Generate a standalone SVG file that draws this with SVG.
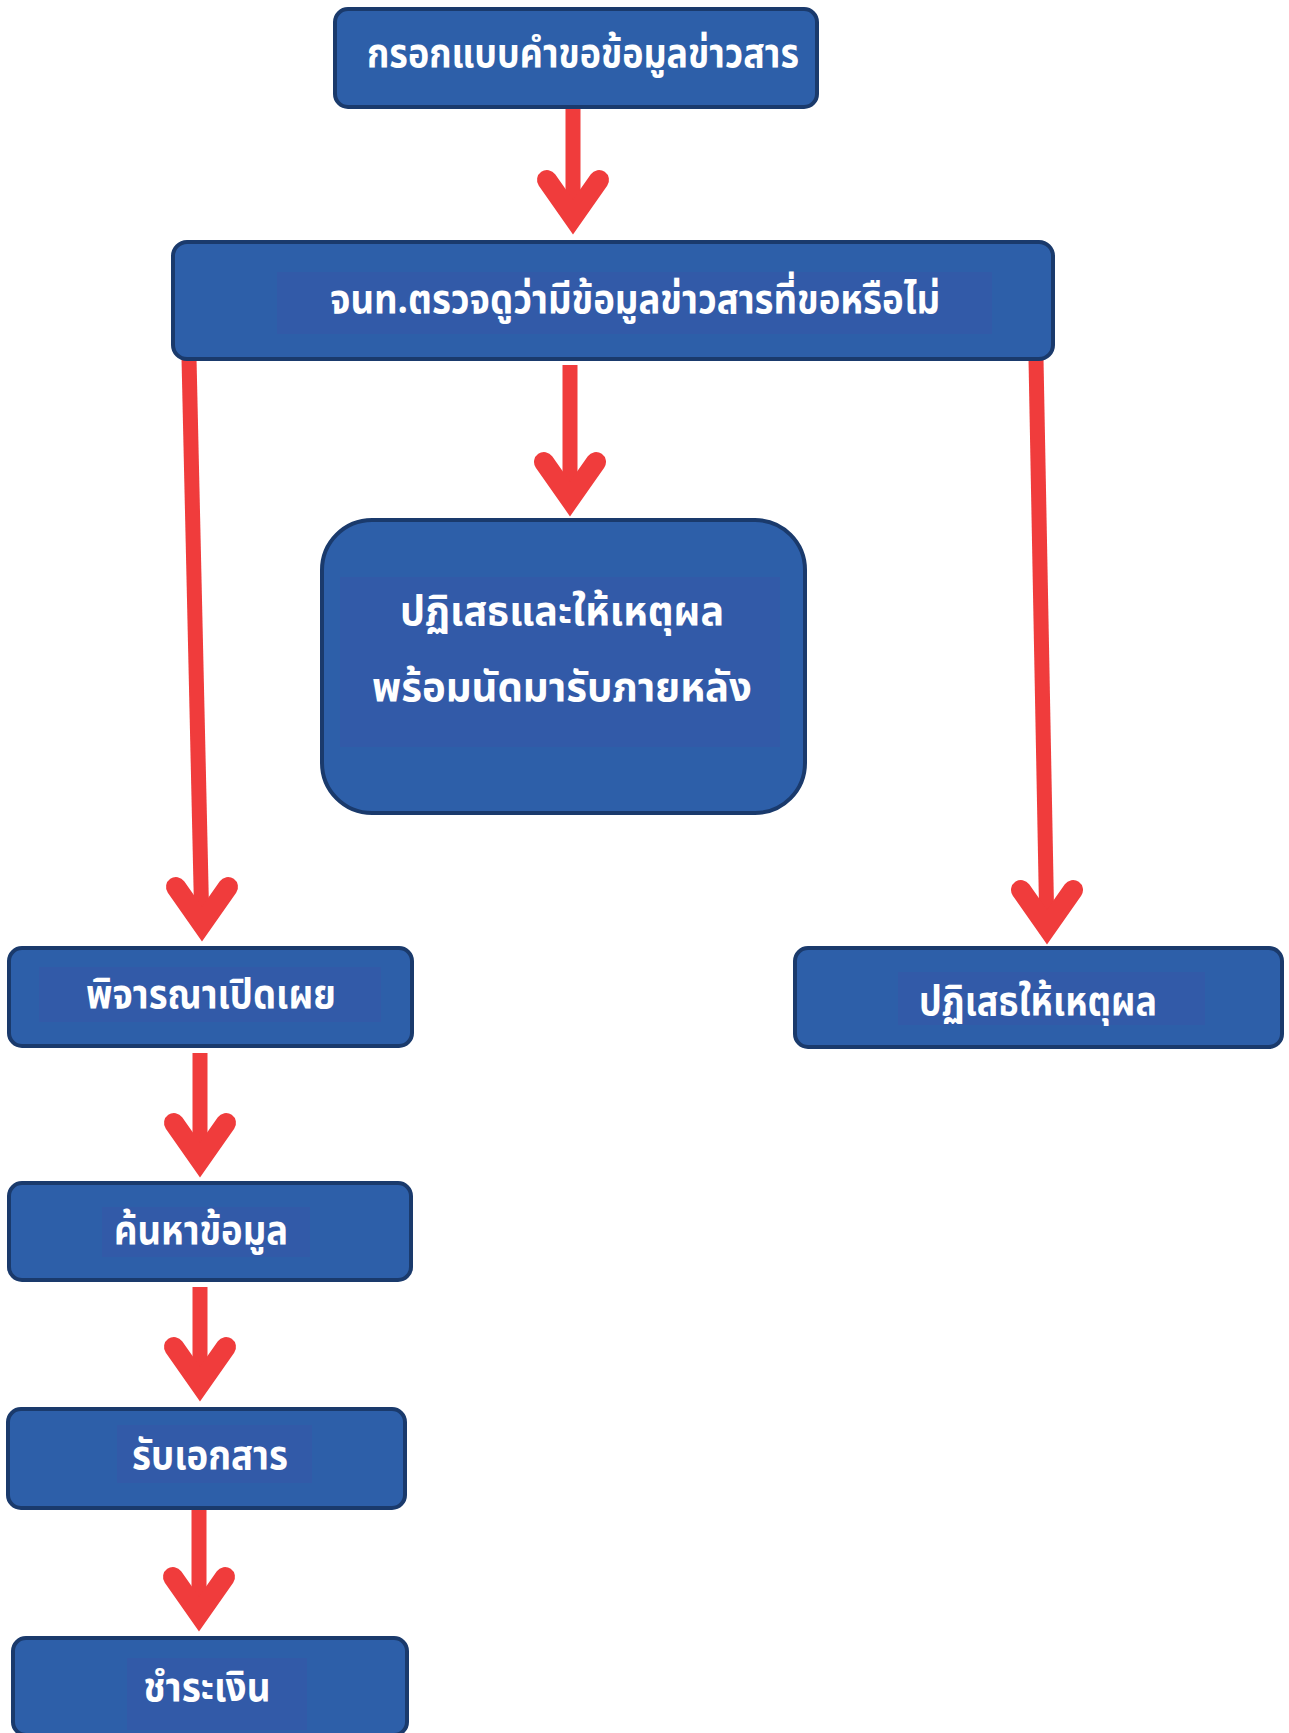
<svg xmlns="http://www.w3.org/2000/svg" width="1289" height="1733" viewBox="0 0 1289 1733">
<style>
.box{fill:#2d5fa9;stroke:#1a3a6c;stroke-width:4}
.hl{fill:#3a55a6;opacity:0.45}
.t{font-family:"Noto Sans Thai","Noto Sans",sans-serif;font-weight:bold;font-size:40px;fill:#ffffff;text-anchor:middle}
.shaft{stroke:#f03c3c;stroke-width:15;fill:none}
.head{stroke:#f03c3c;stroke-width:20;fill:none;stroke-linecap:round;stroke-linejoin:miter;stroke-miterlimit:10}
</style>
<rect width="1289" height="1733" fill="#ffffff"/>
<g id="connectors">
<line class="shaft" x1="573" y1="107" x2="573" y2="222"/>
<polyline class="head" points="547,180 573,217 599,180"/>
<line class="shaft" x1="570" y1="365" x2="570" y2="505"/>
<polyline class="head" points="544,462 570,499 596,462"/>
<line class="shaft" x1="189" y1="358" x2="202" y2="930"/>
<polyline class="head" points="176,887 202,924 228,887"/>
<line class="shaft" x1="1036" y1="359" x2="1047" y2="933"/>
<polyline class="head" points="1021,890 1047,927 1073,890"/>
<line class="shaft" x1="200" y1="1053" x2="200" y2="1166"/>
<polyline class="head" points="174,1123 200,1160 226,1123"/>
<line class="shaft" x1="200" y1="1287" x2="200" y2="1390"/>
<polyline class="head" points="174,1347 200,1384 226,1347"/>
<line class="shaft" x1="199" y1="1508" x2="199" y2="1620"/>
<polyline class="head" points="173,1577 199,1614 225,1577"/>
</g>
<g id="n1">
<rect class="box" x="335" y="9" width="482" height="98" rx="13"/>
<text class="t" x="583" y="67" textLength="432" lengthAdjust="spacingAndGlyphs">กรอกแบบคำขอข้อมูลข่าวสาร</text>
</g>
<g id="n2">
<rect class="box" x="173" y="242" width="880" height="117" rx="14"/>
<rect class="hl" x="277" y="272" width="715" height="62"/>
<text class="t" x="635" y="313" textLength="610" lengthAdjust="spacingAndGlyphs">จนท.ตรวจดูว่ามีข้อมูลข่าวสารที่ขอหรือไม่</text>
</g>
<g id="n3">
<rect class="box" x="322" y="520" width="483" height="293" rx="50"/>
<rect class="hl" x="340" y="577" width="440" height="170"/>
<text class="t" x="562" y="625" textLength="324" lengthAdjust="spacingAndGlyphs">ปฏิเสธและให้เหตุผล</text>
<text class="t" x="562" y="701" textLength="380" lengthAdjust="spacingAndGlyphs">พร้อมนัดมารับภายหลัง</text>
</g>
<g id="n4">
<rect class="box" x="9" y="948" width="403" height="98" rx="13"/>
<rect class="hl" x="39" y="967" width="342" height="55"/>
<text class="t" x="211" y="1008" textLength="250" lengthAdjust="spacingAndGlyphs">พิจารณาเปิดเผย</text>
</g>
<g id="n5">
<rect class="box" x="795" y="948" width="487" height="99" rx="13"/>
<rect class="hl" x="898" y="972" width="307" height="53"/>
<text class="t" x="1038" y="1015" textLength="238" lengthAdjust="spacingAndGlyphs">ปฏิเสธให้เหตุผล</text>
</g>
<g id="n6">
<rect class="box" x="9" y="1183" width="402" height="97" rx="13"/>
<rect class="hl" x="102" y="1207" width="208" height="50"/>
<text class="t" x="201" y="1244" textLength="174" lengthAdjust="spacingAndGlyphs">ค้นหาข้อมูล</text>
</g>
<g id="n7">
<rect class="box" x="8" y="1409" width="397" height="99" rx="13"/>
<rect class="hl" x="117" y="1425" width="195" height="58"/>
<text class="t" x="210" y="1469" textLength="156" lengthAdjust="spacingAndGlyphs">รับเอกสาร</text>
</g>
<g id="n8">
<rect class="box" x="13" y="1638" width="394" height="97" rx="13"/>
<rect class="hl" x="127" y="1658" width="180" height="72"/>
<text class="t" x="207" y="1701" textLength="127" lengthAdjust="spacingAndGlyphs">ชำระเงิน</text>
</g>
</svg>
